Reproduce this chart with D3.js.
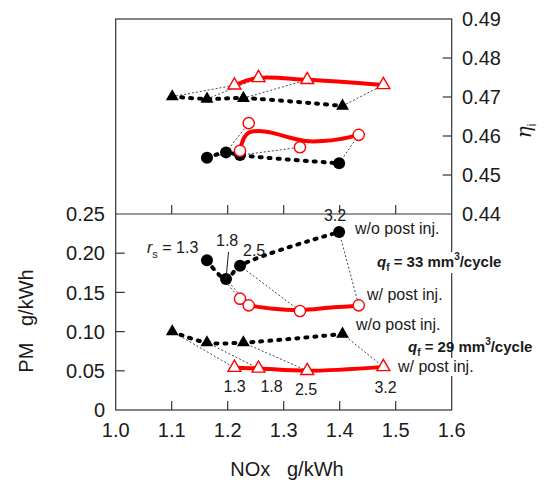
<!DOCTYPE html>
<html><head><meta charset="utf-8">
<script src="https://cdn.jsdelivr.net/npm/d3@7"></script>
<style>
html,body{margin:0;padding:0;background:#fff;}
svg{display:block;font-family:"Liberation Sans",Arial,sans-serif;}
</style></head>
<body>
<script>
// ---------- data ----------
const rsLabels = ["1.3", "1.8", "2.5", "3.2"];
// qf = 33 mm3/cycle (circles), without post injection
const noxC33Wo = [1.163, 1.197, 1.222, 1.399];
const pmC33Wo  = [0.191, 0.167, 0.184, 0.227];
const etaC33Wo = [0.4544, 0.4558, 0.4551, 0.4530];
// qf = 33, with post injection
const noxC33W  = [1.222, 1.2375, 1.329, 1.434];
const pmC33W   = [0.142, 0.1335, 0.1263, 0.1335];
const etaC33W  = [0.4562, 0.4633, 0.4571, 0.4603];
// qf = 29 mm3/cycle (triangles), without post injection
const noxT29Wo = [1.101, 1.163, 1.228, 1.405];
const pmT29Wo  = [0.100, 0.086, 0.086, 0.097];
const etaT29Wo = [0.4701, 0.4695, 0.4697, 0.4677];
// qf = 29, with post injection
const noxT29W  = [1.212, 1.255, 1.342, 1.478];
const pmT29W   = [0.054, 0.053, 0.050, 0.055];
const etaT29W  = [0.4730, 0.4749, 0.4744, 0.4731];
// fitted trend curves (qf = 33, w/ post inj.)
const fitEtaC33WNox = [1.222, 1.229, 1.238, 1.255, 1.280, 1.310, 1.340, 1.370, 1.400, 1.434];
const fitEtaC33W    = [0.4562, 0.4595, 0.4609, 0.4613, 0.4608, 0.4596, 0.4587, 0.4587, 0.4592, 0.4603];
const fitPmC33WNox  = [1.2375, 1.281, 1.329, 1.389, 1.434];
const fitPmC33W     = [0.1335, 0.1292, 0.1276, 0.1310, 0.1327];
// axis ticks
const xTicks   = [1.0, 1.1, 1.2, 1.3, 1.4, 1.5, 1.6];
const pmTicks  = [0, 0.05, 0.10, 0.15, 0.20, 0.25];
const etaTicks = [0.44, 0.45, 0.46, 0.47, 0.48, 0.49];

// ---------- layout ----------
const W = 544, H = 484;
const L = 115.7, R = 451.7, topY = 19, midY = 214, botY = 410;
const x = d3.scaleLinear([1.0, 1.6], [L, R]);
const yPM = d3.scaleLinear([0, 0.25], [botY, midY]);
const yEta = d3.scaleLinear([0.44, 0.49], [midY, topY]);
const RED = "#ff0000", INK = "#1a1a1a", AX = "#333";

const svg = d3.select("body").append("svg").attr("width", W).attr("height", H);

// ---------- frames & ticks ----------
const ax = svg.append("g").attr("stroke", AX).attr("stroke-width", 1.2).attr("fill", "none");
ax.append("rect").attr("x", L).attr("y", topY).attr("width", R - L).attr("height", botY - topY);
ax.append("line").attr("x1", L).attr("x2", R).attr("y1", midY).attr("y2", midY);
const TL = 9;
xTicks.slice(1, -1).forEach(v => {
  ax.append("line").attr("x1", x(v)).attr("x2", x(v)).attr("y1", botY).attr("y2", botY - TL);
  ax.append("line").attr("x1", x(v)).attr("x2", x(v)).attr("y1", midY).attr("y2", midY - TL);
});
pmTicks.slice(1, -1).forEach(v => {
  ax.append("line").attr("x1", L).attr("x2", L + TL).attr("y1", yPM(v)).attr("y2", yPM(v));
});
etaTicks.slice(1, -1).forEach(v => {
  ax.append("line").attr("x1", R).attr("x2", R - TL).attr("y1", yEta(v)).attr("y2", yEta(v));
});

const tx = svg.append("g").attr("fill", INK).attr("font-size", 20);
xTicks.forEach(v => tx.append("text").attr("x", x(v)).attr("y", botY + 27)
  .attr("text-anchor", "middle").text(v.toFixed(1)));
pmTicks.forEach(v => tx.append("text").attr("x", 105).attr("y", yPM(v) + 7.2)
  .attr("text-anchor", "end").text(v === 0 ? "0" : v.toFixed(2)));
etaTicks.forEach(v => tx.append("text").attr("x", 462).attr("y", yEta(v) + 7.2)
  .text(v.toFixed(2)));

// axis titles
tx.append("text").attr("x", 287).attr("y", 476).attr("text-anchor", "middle")
  .style("white-space", "pre").text("NOx   g/kWh");
tx.append("text").attr("transform", "translate(33,321) rotate(-90)").attr("text-anchor", "middle")
  .style("white-space", "pre").text("PM   g/kWh");
const eta = tx.append("text").attr("transform", "translate(531,131) rotate(-90)").attr("text-anchor", "middle");
eta.append("tspan").attr("font-style", "italic").attr("font-family", "DejaVu Serif, serif").text("η");
eta.append("tspan").attr("font-size", 12).attr("dy", 5).text("i");

// ---------- helpers ----------
const zipP = (xs, ys) => xs.map((v, i) => [v, ys[i]]);
const series = [
  {nox: noxC33Wo, pm: pmC33Wo, eta: etaC33Wo, shape: "circle", red: false},
  {nox: noxC33W,  pm: pmC33W,  eta: etaC33W,  shape: "circle", red: true},
  {nox: noxT29Wo, pm: pmT29Wo, eta: etaT29Wo, shape: "triangle", red: false},
  {nox: noxT29W,  pm: pmT29W,  eta: etaT29W,  shape: "triangle", red: true},
];
const plot = svg.append("g");

// dotted connectors (same rs: w/o -> w/)
const conn = plot.append("g").attr("stroke", "#333").attr("stroke-width", 0.9)
  .attr("stroke-dasharray", "2,2").attr("fill", "none");
[[series[0], series[1]], [series[2], series[3]]].forEach(([a, b]) => {
  a.nox.forEach((v, i) => {
    conn.append("line").attr("x1", x(v)).attr("y1", yPM(a.pm[i])).attr("x2", x(b.nox[i])).attr("y2", yPM(b.pm[i]));
    conn.append("line").attr("x1", x(v)).attr("y1", yEta(a.eta[i])).attr("x2", x(b.nox[i])).attr("y2", yEta(b.eta[i]));
  });
});

// trend lines
const lineGen = (ys) => d3.line().x(d => x(d[0])).y(d => ys(d[1])).curve(d3.curveCatmullRom.alpha(0.5));
const blackStyle = p => p.attr("fill", "none").attr("stroke", "#000").attr("stroke-width", 4)
  .attr("stroke-dasharray", "2,7").attr("stroke-linecap", "round");
const redStyle = p => p.attr("fill", "none").attr("stroke", RED).attr("stroke-width", 4).attr("stroke-linecap", "round");

[series[0], series[2]].forEach(s => {
  plot.append("path").attr("d", lineGen(yPM)(zipP(s.nox, s.pm))).call(blackStyle);
  plot.append("path").attr("d", lineGen(yEta)(zipP(s.nox, s.eta))).call(blackStyle);
});
plot.append("path").attr("d", lineGen(yPM)(zipP(noxT29W, pmT29W))).call(redStyle);
plot.append("path").attr("d", lineGen(yEta)(zipP(noxT29W, etaT29W))).call(redStyle);
plot.append("path").attr("d", lineGen(yPM)(zipP(fitPmC33WNox, fitPmC33W))).call(redStyle);
plot.append("path").attr("d", lineGen(yEta)(zipP(fitEtaC33WNox, fitEtaC33W))).call(redStyle);

// markers
const tri = d3.symbol(d3.symbolTriangle, 72);
series.forEach(s => {
  [[s.pm, yPM], [s.eta, yEta]].forEach(([vals, ys]) => {
    s.nox.forEach((v, i) => {
      let m;
      if (s.shape === "circle") {
        m = plot.append("circle").attr("cx", x(v)).attr("cy", ys(vals[i])).attr("r", s.red ? 5.6 : 6);
      } else {
        m = plot.append("path").attr("d", tri()).attr("transform", `translate(${x(v)},${ys(vals[i])})`);
      }
      if (s.red) m.attr("fill", "#fff").attr("stroke", RED).attr("stroke-width", 1.4);
      else m.attr("fill", "#000");
    });
  });
});

// ---------- annotations ----------
const an = svg.append("g").attr("fill", INK).attr("font-size", 16);
// rs labels (qf=33, w/o)
const rsT = an.append("text").attr("x", 147).attr("y", 253);
rsT.append("tspan").attr("font-style", "italic").text("r");
rsT.append("tspan").attr("font-size", 11).attr("dy", 5).text("s");
rsT.append("tspan").attr("dy", -5).text(" = " + rsLabels[0]);
an.append("text").attr("x", 216).attr("y", 246).text(rsLabels[1]);
an.append("line").attr("x1", 228.5).attr("y1", 252).attr("x2", x(noxC33Wo[1])).attr("y2", yPM(pmC33Wo[1]))
  .attr("stroke", INK).attr("stroke-width", 1);
an.append("text").attr("x", 243).attr("y", 256).text(rsLabels[2]);
an.append("text").attr("x", 335).attr("y", 221).attr("text-anchor", "middle").text(rsLabels[3]);
// rs labels (qf=29, w/)
[[234.5, 392], [271.5, 392], [306, 395], [385.5, 393]].forEach((p, i) =>
  an.append("text").attr("x", p[0]).attr("y", p[1]).attr("text-anchor", "middle").text(rsLabels[i]));

an.append("text").attr("x", 355).attr("y", 234).text("w/o post inj.");
an.append("text").attr("x", 367).attr("y", 300).text("w/ post inj.");
an.append("text").attr("x", 356).attr("y", 330).text("w/o post inj.");
const last = an.append("g");
last.append("rect").attr("x", 446).attr("y", 358).attr("width", 30).attr("height", 18).attr("fill", "#fff");
last.append("text").attr("x", 398).attr("y", 372).text("w/ post inj.");

function qfLabel(xp, yp, val) {
  const g = an.append("g");
  g.append("rect").attr("x", xp + 60).attr("y", yp - 15).attr("width", 72).attr("height", 21).attr("fill", "#fff");
  const t = g.append("text").attr("x", xp).attr("y", yp).attr("font-weight", "bold").attr("font-size", 15);
  t.append("tspan").attr("font-style", "italic").text("q");
  t.append("tspan").attr("font-size", 10).attr("dy", 4).text("f");
  t.append("tspan").attr("dy", -4).text(` = ${val} mm`);
  t.append("tspan").attr("font-size", 10).attr("dy", -7).text("3");
  t.append("tspan").attr("dy", 7).text("/cycle");
}
qfLabel(377, 267, 33);
qfLabel(408, 352, 29);
</script>
</body></html>
